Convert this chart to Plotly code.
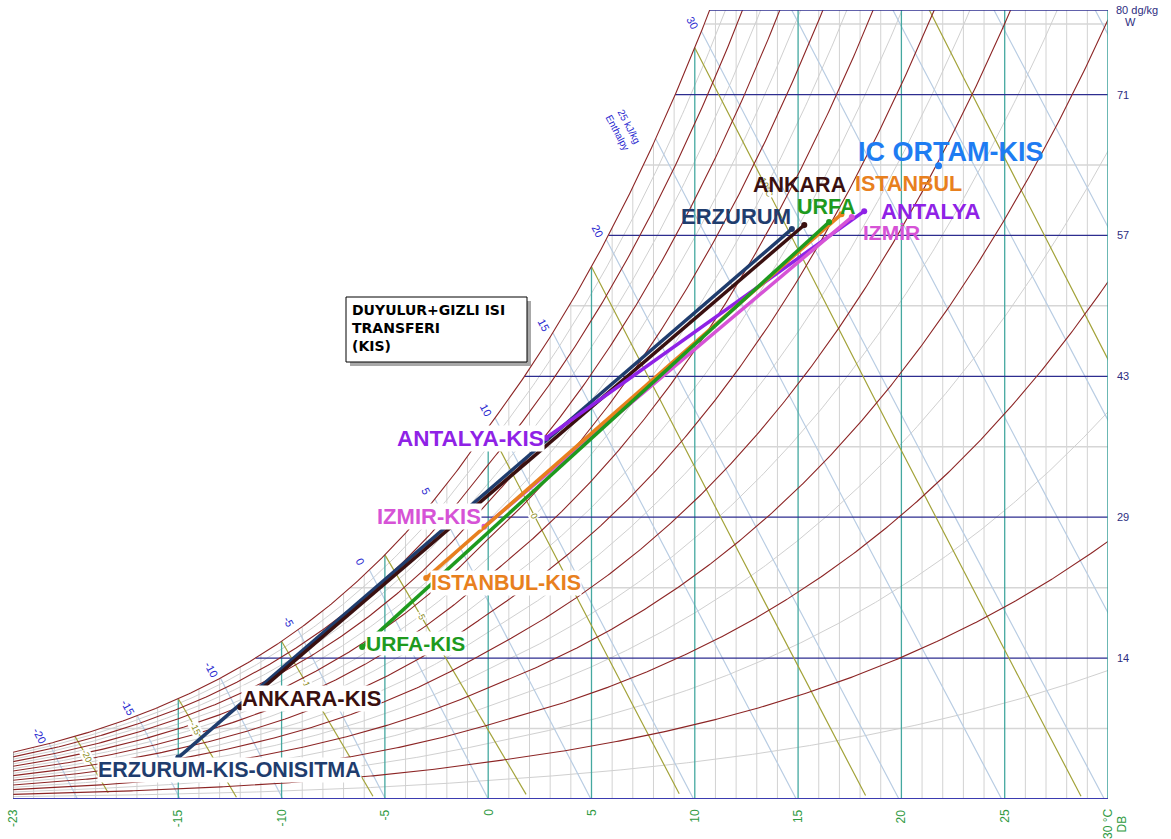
import numpy as np
import plotly.graph_objects as go

# ---------------- data ----------------
winter_labels = ["ERZURUM-KIS-ONISITMA", "ANKARA-KIS", "ANTALYA-KIS", "IZMIR-KIS", "ISTANBUL-KIS", "URFA-KIS"]
supply_labels = ["ERZURUM", "ANKARA", "ANTALYA", "IZMİR", "ISTANBUL", "URFA"]
winter_t = [-15.0, -12.0, 2.8, -0.2, -3.0, -6.1]      # dry bulb, °C
winter_w = [4.2, 9.3, 36.6, 27.6, 22.4, 15.4]         # humidity ratio, dg/kg
supply_t = [14.7, 15.3, 18.2, 17.6, 17.1, 16.5]
supply_w = [57.8, 58.2, 59.6, 59.0, 59.3, 58.5]
indoor_label = ["IC ORTAM-KIS"]
indoor_t = [21.8]
indoor_w = [64.2]

db_tick_values = [-23, -15, -10, -5, 0, 5, 10, 15, 20, 25]
w_tick_values = [14.2857, 28.5714, 42.8571, 57.1429, 71.4286]
w_tick_labels = ["14", "29", "43", "57", "71"]
rh_levels = [0.05 * k for k in range(1, 21)]
enthalpy_levels = list(range(-20, 55, 5))
enthalpy_label_levels = [-20, -15, -10, -5, 0, 5, 10, 15, 20, 25, 30]
enthalpy_label_text = ["-20", "-15", "-10", "-5", "0", "5", "10", "15", "20", "25 kJ/kg<br>Enthalpy", "30"]
wetbulb_levels = [-20, -15, -10, -5, 0, 5, 10, 15]
wetbulb_label_levels = [-20, -15, -10, -5, 0, 10]
wetbulb_label_text = ["-20", "-15", "-10", "-5", "0", "10°C"]
box_text = "<b>DUYULUR+GIZLI ISI<br>TRANSFERI<br>(KIS)</b>"

# ---------------- styles ----------------
city_colors = ["#1f3d6e", "#3a1010", "#8f22e6", "#d653d6", "#e8801e", "#1e9a1e"]
indoor_color = "#1e7cf2"
supply_offsets = [(-56, 12), (-5, 40), (67, 0), (40, -15), (67, 30), (-3, 15)]
winter_offsets = [(51, -12), (71, 9), (-76, 0), (-55, 10), (80, -5), (53, 4)]
supply_sizes = [22, 21.5, 22, 21, 21.5, 21.5]
winter_sizes = [21.5, 22, 22.5, 22, 21.5, 21]
FONT = "Liberation Sans, Arial, sans-serif"
PL, PR, PT, PB = 13, 1108, 10, 799   # plot area in pixels

P = 101.325
TMIN, TMAX, WMAX = -23.0, 30.0, 80.0


def psat(t):
    t = np.asarray(t, dtype=float)
    water = 0.61094 * np.exp(17.625 * t / (t + 243.04))
    ice = 0.61115 * np.exp(22.452 * t / (272.55 + t))
    return np.where(t >= 0, water, ice)


def w_of_p(p):
    return 6219.45 * p / (P - p)   # dg/kg


def wsat(t):
    return w_of_p(psat(t))


def dewpoint(w):
    p = w * P / (6219.45 + w)
    if p < 0.6112:
        a = np.log(p / 0.61115)
        return 272.55 * a / (22.452 - a)
    a = np.log(p / 0.61094)
    return 243.04 * a / (17.625 - a)


def enthalpy(t, w):
    x = w / 10000.0
    return 1.006 * t + x * (2501 + 1.86 * t)


def bisect(f, a, b, n=80):
    fa = f(a)
    for _ in range(n):
        m = 0.5 * (a + b)
        fm = f(m)
        if (fm > 0) == (fa > 0):
            a, fa = m, fm
        else:
            b = m
    return 0.5 * (a + b)


def wetbulb_w(t, twb):
    ws = float(wsat(twb)) / 10000.0
    if twb >= 0:
        x = ((2501 - 2.326 * twb) * ws - 1.006 * (t - twb)) / (2501 + 1.86 * t - 4.186 * twb)
    else:
        x = ((2830 - 0.24 * twb) * ws - 1.006 * (t - twb)) / (2830 + 1.86 * t - 2.1 * twb)
    return x * 10000.0


def join(segments):
    xs, ys = [], []
    for sx, sy in segments:
        xs += list(sx) + [None]
        ys += list(sy) + [None]
    return xs, ys


def px2paper(px, py):
    return (px - PL) / (PR - PL), (PB - py) / (PB - PT)


fig = go.Figure()


def add_lines(segs, color, width):
    xs, ys = join(segs)
    fig.add_trace(go.Scatter(x=xs, y=ys, mode="lines", line=dict(color=color, width=width),
                             hoverinfo="skip", showlegend=False))


# vertical dry bulb lines
grey_v, teal_v = [], []
for t in range(-22, 30):
    top = min(float(wsat(t)), WMAX)
    seg = ([t, t], [0, top])
    if t % 5 == 0 and t >= -15:
        teal_v.append(seg)
    else:
        grey_v.append(seg)
add_lines(grey_v, "#d2d2d2", 1)
# horizontal lines
grey_h, navy_h = [], []
for k in range(1, 12):
    w = k * 100.0 / 14.0
    if w >= WMAX:
        break
    t0 = max(dewpoint(w), TMIN)
    seg = ([t0, TMAX], [w, w])
    (navy_h if k % 2 == 0 else grey_h).append(seg)
add_lines(grey_h, "#d6d6d6", 1.5)

# relative humidity curves
tt = np.linspace(TMIN, TMAX, 500)
grey_rh, red_rh = [], []
for i, rh in enumerate(rh_levels):
    ww = w_of_p(rh * psat(tt))
    m = ww <= WMAX + 3
    seg = (tt[m], ww[m])
    (red_rh if i % 2 == 1 else grey_rh).append(seg)
add_lines(grey_rh, "#d0d0d0", 1)

# enthalpy lines
ent = []
for h in enthalpy_levels:
    ts = bisect(lambda t: enthalpy(t, float(wsat(t))) - h, -40, 40)
    ws_ = float(wsat(ts))
    wv = np.linspace(0, ws_, 20)
    tv = (h - wv / 10000.0 * 2501) / (1.006 + 1.86 * wv / 10000.0)
    ent.append((tv, wv))
add_lines(ent, "#b9cde3", 1.2)

add_lines(teal_v, "#45a8a0", 1.3)
add_lines(navy_h, "#2d2d8f", 1.3)

# wet bulb lines
wb = []
for twb in wetbulb_levels:
    tv = np.linspace(twb, twb + 40, 200)
    wv = np.array([wetbulb_w(t, twb) for t in tv])
    m = wv >= 0
    wb.append((tv[m], wv[m]))
add_lines(wb, "#a3a33a", 1.2)

add_lines(red_rh, "#8c2525", 1.1)

# borders
add_lines([([TMIN, TMIN], [0, float(wsat(TMIN))])], "#7a6a6a", 1.2)
add_lines([([TMAX, TMAX], [0, WMAX])], "#3aa09a", 1.5)
add_lines([([dewpoint(WMAX), TMAX], [WMAX, WMAX])], "#2d2d8f", 1.5)
add_lines([([TMIN, TMAX], [0, 0])], "#3b3bb0", 1.8)

# process lines
for i in range(len(winter_labels)):
    fig.add_trace(go.Scatter(x=[winter_t[i], supply_t[i]], y=[winter_w[i], supply_w[i]],
                             mode="lines+markers",
                             line=dict(color=city_colors[i], width=3.5),
                             marker=dict(color=city_colors[i], size=6),
                             hoverinfo="skip", showlegend=False))
fig.add_trace(go.Scatter(x=indoor_t, y=indoor_w, mode="markers",
                         marker=dict(color=indoor_color, size=7),
                         hoverinfo="skip", showlegend=False))

ann = []
# enthalpy labels
for h, txt in zip(enthalpy_label_levels, enthalpy_label_text):
    ts = bisect(lambda t: enthalpy(t, float(wsat(t))) - h, -40, 40)
    ws_ = float(wsat(ts))
    big = "Enthalpy" in txt
    ann.append(dict(x=ts, y=ws_, text=txt, showarrow=False, textangle=62,
                    xshift=-32 if big else -9, yshift=9 if big else 8,
                    font=dict(family=FONT, size=10 if big else 11, color="#2a2ad0")))
# wet bulb labels at about 65 % RH
for twb, txt in zip(wetbulb_label_levels, wetbulb_label_text):
    def f(t, twb=twb):
        w = wetbulb_w(t, twb)
        p = w * P / (6219.45 + w)
        return p / float(psat(t)) - 0.65
    tl = bisect(f, twb + 1e-6, twb + 15)
    ann.append(dict(x=tl, y=wetbulb_w(tl, twb), text=txt, showarrow=False, textangle=65,
                    bgcolor="white", borderpad=0,
                    font=dict(family=FONT, size=9, color="#8a8a20")))

# bottom dry-bulb labels
for v in db_tick_values:
    ann.append(dict(x=v, y=0, yref="y", text=str(v), showarrow=False, textangle=-90,
                    yanchor="top", yshift=-8,
                    font=dict(family=FONT, size=12, color="#2f9a3f")))
ann.append(dict(x=TMAX, y=0, text="30 °C", showarrow=False, textangle=-90,
                yanchor="top", yshift=-8, font=dict(family=FONT, size=12, color="#2f9a3f")))
ann.append(dict(x=TMAX, y=0, text="DB", showarrow=False, textangle=-90,
                yanchor="top", yshift=-15, xshift=13, font=dict(family=FONT, size=12, color="#2f9a3f")))
# right humidity labels
for v, txt in zip(w_tick_values, w_tick_labels):
    ann.append(dict(x=1, xref="paper", y=v, text=txt, showarrow=False, xanchor="left",
                    xshift=7, font=dict(family=FONT, size=11, color="#2d2d7f")))
ann.append(dict(x=1, xref="paper", y=WMAX, text="80 dg/kg", showarrow=False, xanchor="left",
                xshift=6, font=dict(family=FONT, size=11, color="#2d2d7f")))
ann.append(dict(x=1, xref="paper", y=WMAX, text="W", showarrow=False, xanchor="left",
                xshift=15, yshift=-12, font=dict(family=FONT, size=11, color="#2d2d7f")))

# data labels
for i in range(len(winter_labels)):
    dx, dy = supply_offsets[i]
    ann.append(dict(x=supply_t[i], y=supply_w[i], text="<b>" + supply_labels[i] + "</b>",
                    showarrow=False, xshift=dx, yshift=dy,
                    font=dict(family=FONT, size=supply_sizes[i], color=city_colors[i])))
    dx, dy = winter_offsets[i]
    ann.append(dict(x=winter_t[i], y=winter_w[i], text="<b>" + winter_labels[i] + "</b>",
                    showarrow=False, xshift=dx, yshift=dy, bgcolor="white", borderpad=0,
                    font=dict(family=FONT, size=winter_sizes[i], color=city_colors[i])))
ann.append(dict(x=indoor_t[0], y=indoor_w[0], text="<b>" + indoor_label[0] + "</b>",
                showarrow=False, xshift=12, yshift=14,
                font=dict(family=FONT, size=27, color=indoor_color)))

# text box
bx0, by0 = px2paper(346, 362)
bx1, by1 = px2paper(527, 297)
sx0, sy0 = px2paper(350, 366)
sx1, sy1 = px2paper(531, 301)
shapes = [
    dict(type="rect", xref="paper", yref="paper", x0=sx0, y0=sy0, x1=sx1, y1=sy1,
         fillcolor="#a8a8a8", line=dict(width=0), layer="above"),
    dict(type="rect", xref="paper", yref="paper", x0=bx0, y0=by0, x1=bx1, y1=by1,
         fillcolor="white", line=dict(color="black", width=1), layer="above"),
]
tx, ty = px2paper(350, 300)
ann.append(dict(x=tx, y=ty, xref="paper", yref="paper", text=box_text, showarrow=False,
                xanchor="left", yanchor="top", align="left",
                font=dict(family="DejaVu Sans, sans-serif", size=14, color="black")))

fig.update_layout(
    width=1171, height=839, autosize=False,
    margin=dict(l=PL, r=1171 - PR, t=PT, b=839 - PB),
    paper_bgcolor="white", plot_bgcolor="white",
    xaxis=dict(range=[TMIN, TMAX], visible=False, fixedrange=True),
    yaxis=dict(range=[0, WMAX], visible=False, fixedrange=True),
    annotations=ann, shapes=shapes, hovermode=False, showlegend=False,
)
fig.write_html("out.html")
